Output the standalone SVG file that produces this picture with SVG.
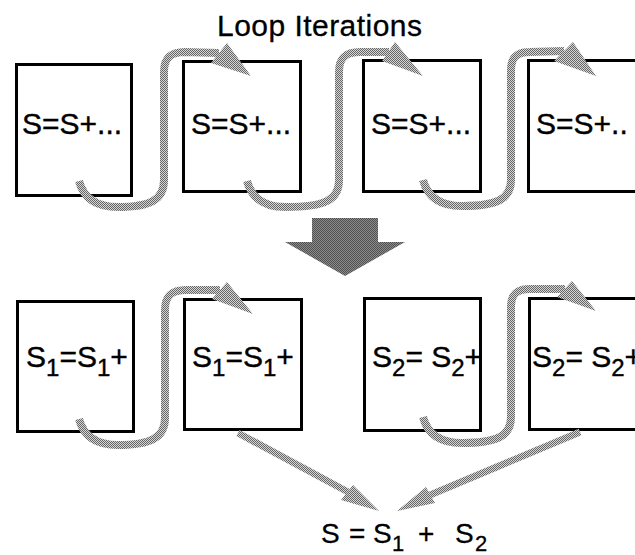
<svg xmlns="http://www.w3.org/2000/svg" width="635" height="555" viewBox="0 0 635 555">
  <defs>
    <pattern id="ditherLight" width="2" height="2" patternUnits="userSpaceOnUse">
      <rect width="2" height="2" fill="#d6d6d6"/>
      <rect x="0" y="0" width="1" height="1" fill="#666666"/>
      <rect x="1" y="1" width="1" height="1" fill="#666666"/>
    </pattern>
    <pattern id="ditherDark" width="2" height="2" patternUnits="userSpaceOnUse">
      <rect width="2" height="2" fill="#8c8c8c"/>
      <rect x="0" y="0" width="1" height="1" fill="#505050"/>
      <rect x="1" y="1" width="1" height="1" fill="#505050"/>
    </pattern>
  </defs>
  <style>
    .box { fill: #ffffff; stroke: #000000; stroke-width: 3; }
    .lbl { font-family: "Liberation Sans", Arial, sans-serif; font-size: 30px; fill: #000000; stroke: #000000; stroke-width: 0.4; }
    .sub { font-size: 24px; }
    .title { font-family: "Liberation Sans", Arial, sans-serif; font-size: 30px; fill: #000000; stroke: #000000; stroke-width: 0.3; }
    .formula { font-family: "Liberation Sans", Arial, sans-serif; font-size: 28px; fill: #000000; stroke: #000000; stroke-width: 0.3; }
    .fsub { font-size: 22px; }
    .flow { fill: none; stroke: url(#ditherLight); stroke-width: 8; stroke-linecap: butt; stroke-linejoin: round; }
    .diag { fill: none; stroke: url(#ditherLight); stroke-width: 7; }
    .head { fill: url(#ditherLight); stroke: none; }
    .big { fill: url(#ditherDark); stroke: none; }
  </style>

  <text class="title" x="217" y="36" textLength="205" lengthAdjust="spacing">Loop Iterations</text>

  <g id="iter1">
    <rect class="box" x="16.5" y="64.5" width="115" height="131"/>
    <text class="lbl" x="22" y="134">S=S+...</text>
  </g>
  <g id="iter2">
    <rect class="box" x="183.5" y="61.5" width="117" height="130"/>
    <text class="lbl" x="191" y="134">S=S+...</text>
  </g>
  <g id="iter3">
    <rect class="box" x="363.5" y="60.5" width="117" height="131"/>
    <text class="lbl" x="371" y="134">S=S+...</text>
  </g>
  <g id="iter4">
    <rect class="box" x="528.5" y="60.5" width="130" height="131"/>
    <text class="lbl" x="536" y="134">S=S+..</text>
  </g>

  <g id="transform-arrow">
    <polygon class="big" points="312,218 378,218 378,242 405,242 345,276 285,242 312,242"/>
  </g>

  <g id="s1-iter1">
    <rect class="box" x="17.5" y="301.5" width="116" height="130"/>
    <text class="lbl" x="26" y="367">S<tspan class="sub" dy="9">1</tspan><tspan dy="-9">=S</tspan><tspan class="sub" dy="9">1</tspan><tspan dy="-9">+</tspan></text>
  </g>
  <g id="s1-iter2">
    <rect class="box" x="184.5" y="299.5" width="117" height="130"/>
    <text class="lbl" x="192" y="367">S<tspan class="sub" dy="9">1</tspan><tspan dy="-9">=S</tspan><tspan class="sub" dy="9">1</tspan><tspan dy="-9">+</tspan></text>
  </g>
  <g id="s2-iter1">
    <rect class="box" x="364.5" y="298.5" width="116" height="132"/>
    <text class="lbl" x="372" y="367">S<tspan class="sub" dy="9">2</tspan><tspan dy="-9">= S</tspan><tspan class="sub" dy="9">2</tspan><tspan dy="-9">+</tspan></text>
  </g>
  <g id="s2-iter2">
    <rect class="box" x="529.5" y="298.5" width="130" height="131"/>
    <text class="lbl" x="532" y="367">S<tspan class="sub" dy="9">2</tspan><tspan dy="-9">= S</tspan><tspan class="sub" dy="9">2</tspan><tspan dy="-9">+</tspan></text>
  </g>

  <g id="result">
    <text class="formula"><tspan x="321" y="543">S</tspan><tspan x="349" y="543">=</tspan><tspan x="373" y="543">S</tspan><tspan class="fsub" x="392" y="551">1</tspan><tspan x="418" y="543">+</tspan><tspan x="455" y="543">S</tspan><tspan class="fsub" x="475" y="551">2</tspan></text>
  </g>

  <g id="connectors">
    <path class="flow" d="M 79,181 C 84,200 98,207 118,207 C 150,207 164,200 164,180 L 164,72 C 164,58 170,52 185,52 L 219,53"/>
    <polygon class="head" points="227,43 251,76 211,63"/>
    <path class="flow" d="M 247,181 C 252,200 266,207 286,207 C 325,207 339,200 339,180 L 339,72 C 339,58 345,52 360,52 L 389,52"/>
    <polygon class="head" points="395,42 423,76 382,61"/>
    <path class="flow" d="M 423,180 C 428,199 442,206 462,206 C 497,206 511,199 511,180 L 511,70 C 511,57 517,52 530,52 L 564,51"/>
    <polygon class="head" points="573,42 596,76 554,61"/>
    <path class="flow" d="M 79,419 C 84,438 98,445 118,445 C 150,445 165,438 165,418 L 165,310 C 165,296 171,290 186,290 L 220,290"/>
    <polygon class="head" points="227,282 253,314 212,299"/>
    <path class="flow" d="M 423,417 C 428,436 442,443 462,443 C 497,443 511,436 511,417 L 511,307 C 511,294 517,289 530,289 L 565,289"/>
    <polygon class="head" points="572,281 596,311 557,297"/>
    <path class="diag" d="M 238,433 L 348,492"/>
    <polygon class="head" points="353,485 379,511 341,500"/>
    <path class="diag" d="M 580,432 L 430,495"/>
    <polygon class="head" points="426,487 397,511 435,503"/>
  </g>
</svg>
